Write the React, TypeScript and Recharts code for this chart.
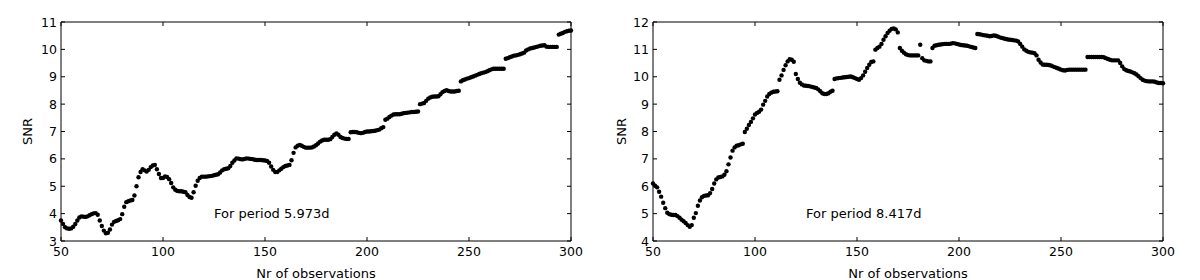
import React from "react";
import { ScatterChart, Scatter, XAxis, YAxis, ReferenceArea, ReferenceDot } from "recharts";

// observation counts 50..300
const nrObs: number[] = [];
for (let n = 50; n <= 300; n++) nrObs.push(n);

const snrLeft = [
  3.75, 3.62, 3.5, 3.46, 3.45, 3.46, 3.52, 3.62, 3.75, 3.86,
  3.9, 3.89, 3.88, 3.9, 3.94, 3.98, 4.01, 4.02, 3.96, 3.75,
  3.55, 3.38, 3.28, 3.3, 3.42, 3.6, 3.7, 3.73, 3.76, 3.8,
  3.98, 4.25, 4.42, 4.45, 4.48, 4.5, 4.66, 5.0, 5.33, 5.52,
  5.62, 5.58, 5.54, 5.6, 5.7, 5.76, 5.78, 5.62, 5.45, 5.3,
  5.3, 5.36, 5.34, 5.26, 5.12, 4.96, 4.87, 4.83, 4.82, 4.82,
  4.8, 4.78, 4.68, 4.61, 4.58, 4.78, 5.02, 5.2, 5.3, 5.35,
  5.35, 5.35, 5.36, 5.37, 5.38, 5.4, 5.42, 5.44, 5.5, 5.58,
  5.62, 5.64, 5.66, 5.74, 5.86, 5.94, 6.02, 6.01, 5.99, 5.98,
  6.0, 6.02, 6.01, 6.0, 5.99, 5.97, 5.96, 5.96, 5.96, 5.95,
  5.94, 5.92, 5.86, 5.72, 5.6, 5.52, 5.52, 5.58, 5.64, 5.7,
  5.74, 5.76, 5.78, 5.95, 6.22, 6.42, 6.48, 6.51, 6.48, 6.44,
  6.41, 6.41, 6.41, 6.42, 6.45, 6.5, 6.56, 6.63, 6.67, 6.7,
  6.7, 6.7, 6.72, 6.8, 6.88, 6.93, 6.88, 6.8, 6.76, 6.74,
  6.73, 6.73, 6.97, 6.98, 6.98, 6.97, 6.95, 6.94, 6.95, 6.98,
  7.0, 7.0, 7.01, 7.02, 7.03, 7.05, 7.07, 7.12, 7.16, 7.43,
  7.47, 7.53, 7.58, 7.62, 7.63, 7.63, 7.63, 7.65, 7.67, 7.68,
  7.69, 7.7, 7.71, 7.71, 7.72, 7.73, 8.0, 8.02, 8.04, 8.12,
  8.2, 8.24, 8.27, 8.28, 8.28, 8.29, 8.36, 8.44, 8.48, 8.51,
  8.48, 8.46, 8.46, 8.46, 8.48, 8.49, 8.83, 8.87, 8.9, 8.93,
  8.95, 8.98, 9.01, 9.04, 9.07, 9.1, 9.13, 9.15, 9.17, 9.2,
  9.24, 9.27, 9.29, 9.29, 9.29, 9.29, 9.29, 9.29, 9.66, 9.68,
  9.71, 9.74, 9.77, 9.78, 9.8, 9.82, 9.85, 9.88, 9.96, 10.0,
  10.03, 10.05, 10.07, 10.09, 10.11, 10.13, 10.14, 10.15, 10.1, 10.09,
  10.09, 10.09, 10.09, 10.09, 10.54, 10.57, 10.6, 10.64, 10.66, 10.68,
  10.69,
];

const snrRight = [
  6.1, 6.02, 5.96, 5.8, 5.62, 5.4, 5.2, 5.03, 4.98, 4.96,
  4.95, 4.95, 4.91, 4.85, 4.78, 4.72, 4.66, 4.58, 4.52, 4.58,
  4.85, 5.02, 5.29, 5.48, 5.6, 5.65, 5.66, 5.67, 5.75, 5.9,
  6.1, 6.25, 6.32, 6.34, 6.36, 6.42, 6.55, 6.8, 7.05, 7.3,
  7.42, 7.48, 7.5, 7.53, 7.55, 7.98, 8.1, 8.24, 8.35, 8.48,
  8.62, 8.68, 8.72, 8.8, 8.98, 9.12, 9.28, 9.37, 9.42, 9.45,
  9.46, 9.47, 9.89, 10.05, 10.25, 10.42, 10.56, 10.64, 10.62, 10.55,
  10.1, 9.92, 9.78, 9.72, 9.68, 9.67, 9.66, 9.65, 9.63, 9.61,
  9.59, 9.54, 9.47, 9.4, 9.37, 9.37, 9.4, 9.45, 9.49, 9.92,
  9.94, 9.95, 9.96, 9.97, 9.98, 9.99, 10.0, 10.01, 9.98, 9.95,
  9.92, 9.89, 9.95, 10.05, 10.18, 10.32, 10.44, 10.54, 10.56, 10.99,
  11.05, 11.1, 11.2, 11.35, 11.48, 11.6, 11.68, 11.75, 11.76, 11.73,
  11.62, 11.05, 10.95, 10.88, 10.82, 10.79, 10.78, 10.78, 10.78, 10.78,
  10.78, 11.17, 10.68, 10.6, 10.58, 10.56, 10.56, 11.05, 11.13, 11.15,
  11.17, 11.18, 11.19, 11.2, 11.2, 11.2, 11.21, 11.23, 11.22, 11.2,
  11.18, 11.16, 11.15, 11.14, 11.13, 11.11, 11.09, 11.07, 11.05, 11.56,
  11.55, 11.54, 11.52, 11.51, 11.5, 11.48, 11.49, 11.51, 11.5, 11.47,
  11.44, 11.42, 11.4, 11.38, 11.36, 11.35, 11.34, 11.33, 11.32, 11.29,
  11.2, 11.1, 11.0, 10.95, 10.91, 10.89, 10.88, 10.86, 10.78, 10.62,
  10.52, 10.45, 10.44, 10.44, 10.43, 10.41, 10.38, 10.35, 10.32, 10.29,
  10.26, 10.24, 10.23, 10.25, 10.26, 10.26, 10.26, 10.26, 10.26, 10.26,
  10.26, 10.26, 10.26, 10.72, 10.72, 10.72, 10.72, 10.72, 10.72, 10.72,
  10.72, 10.71, 10.68, 10.65, 10.62, 10.6, 10.6, 10.6, 10.6, 10.5,
  10.38, 10.28, 10.24, 10.21, 10.19, 10.16, 10.13, 10.08, 10.02, 9.95,
  9.89, 9.86, 9.84, 9.83, 9.83, 9.83, 9.82, 9.79, 9.77, 9.77,
  9.76,
];

const xTicks = [50, 100, 150, 200, 250, 300];
const yTicksLeft = [3, 4, 5, 6, 7, 8, 9, 10, 11];
const yTicksRight = [4, 5, 6, 7, 8, 9, 10, 11, 12];
const labelLeft = "For period 5.973d";
const labelRight = "For period 8.417d";

const FONT = "'DejaVu Sans', sans-serif";
const W = 600;
const H = 280;
const TOP = 22;
const BOTTOM = 241;
const TICK = 4;
const MARGIN = 4;

const dot = (props: any) => <circle cx={props.cx} cy={props.cy} r={2.2} fill="#000" />;

function Panel({ data, yTicks, left, right, snrOffset, note }: any) {
  const plotLeft = left;
  const plotRight = W - right;

  const xTick = (p: any) => (
    <g>
      <line x1={p.x} x2={p.x} y1={BOTTOM} y2={BOTTOM - TICK} stroke="#000" />
      <line x1={p.x} x2={p.x} y1={TOP} y2={TOP + TICK} stroke="#000" />
      <text x={p.x} y={p.y + 11} textAnchor="middle" fontSize={12.5} fontFamily={FONT} fill="#000">
        {p.payload.value}
      </text>
    </g>
  );

  const yTick = (p: any) => (
    <g>
      <line x1={plotLeft} x2={plotLeft + TICK} y1={p.y} y2={p.y} stroke="#000" />
      <line x1={plotRight} x2={plotRight - TICK} y1={p.y} y2={p.y} stroke="#000" />
      <text x={p.x} y={p.y + 4.5} textAnchor="end" fontSize={12.5} fontFamily={FONT} fill="#000">
        {p.payload.value}
      </text>
    </g>
  );

  return (
    <ScatterChart width={W} height={H} margin={{ top: TOP, right, bottom: 0, left: 0 }}>
      <XAxis
        type="number"
        dataKey="n"
        domain={[50, 300]}
        ticks={xTicks}
        tickSize={0}
        tickMargin={MARGIN}
        tickLine={false}
        axisLine={false}
        tick={xTick}
        height={H - BOTTOM}
        interval={0}
        label={{ value: "Nr of observations", position: "insideBottom", offset: 2, fontSize: 13, fontFamily: FONT, fill: "#000" }}
      />
      <YAxis
        type="number"
        dataKey="snr"
        domain={[yTicks[0], yTicks[yTicks.length - 1]]}
        ticks={yTicks}
        tickSize={0}
        tickMargin={MARGIN}
        tickLine={false}
        axisLine={false}
        tick={yTick}
        width={left}
        interval={0}
        label={{ value: "SNR", angle: -90, position: "insideLeft", offset: snrOffset, fontSize: 13, fontFamily: FONT, fill: "#000", style: { textAnchor: "middle" } }}
      />
      <ReferenceArea
        x1={50}
        x2={300}
        y1={yTicks[0]}
        y2={yTicks[yTicks.length - 1]}
        fill="none"
        stroke="#000"
        strokeWidth={1}
      />
      <Scatter data={data} shape={dot} isAnimationActive={false} />
      <ReferenceDot
        x={125}
        y={yTicks[0] + 1.0}
        r={0}
        fill="none"
        stroke="none"
        label={{ value: note, position: "right", offset: 0, fontSize: 13, fontFamily: FONT, fill: "#000" }}
      />
    </ScatterChart>
  );
}

export default function App() {
  const leftData = nrObs.map((n, i) => ({ n, snr: snrLeft[i] }));
  const rightData = nrObs.map((n, i) => ({ n, snr: snrRight[i] }));

  return (
    <div style={{ position: "absolute", left: 0, top: 0, width: 1200, height: 280, background: "#fff", fontFamily: FONT }}>
      <div style={{ position: "absolute", left: 0, top: 0 }}>
        <Panel data={leftData} yTicks={yTicksLeft} left={61} right={29} snrOffset={27} note={labelLeft} />
      </div>
      <div style={{ position: "absolute", left: 600, top: 0 }}>
        <Panel data={rightData} yTicks={yTicksRight} left={53} right={37} snrOffset={21} note={labelRight} />
      </div>
    </div>
  );
}
